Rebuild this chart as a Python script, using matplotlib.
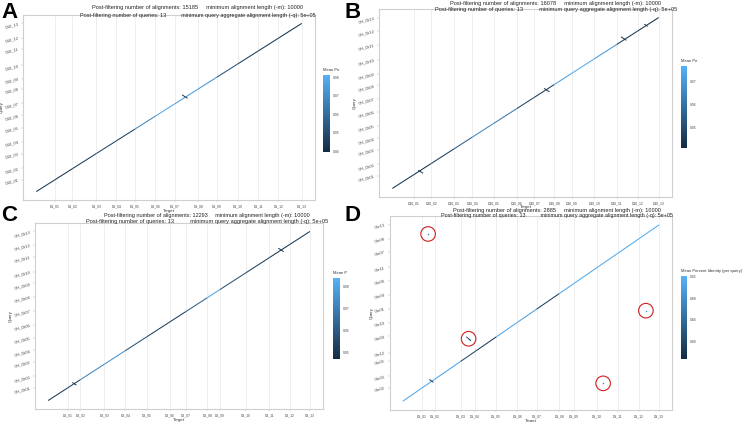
import numpy as np
import matplotlib
matplotlib.use("Agg")
import matplotlib.pyplot as plt
from matplotlib.collections import LineCollection
from matplotlib.colors import LinearSegmentedColormap, Normalize
from matplotlib.cm import ScalarMappable

# ---------------- data ----------------
# Panel A
a_target_labels = [f"D5_{i:02d}" for i in range(1, 14)]
a_target_len = [55, 53, 72, 60, 55, 62, 58, 70, 55, 63, 62, 60, 70]
a_query_labels = [f"D10_{i:02d}" for i in range(1, 14)]
a_query_len = [57, 54, 68, 56, 67, 60, 56, 68, 48, 63, 78, 52, 68]
a_identity = [0.944, 0.942, 0.945, 0.948, 0.946, 0.968, 0.978, 0.975, 0.972, 0.952, 0.945, 0.944, 0.942]
a_cb_ticks = [0.94, 0.95, 0.96, 0.97, 0.98]
a_cb_range = [0.9395, 0.9813]
a_inversions = [(445, 449, 14)]
a_n_aln = 15185

# Panel B
b_target_labels = [f"D10_{i:02d}" for i in range(1, 14)]
b_target_len = [65, 52, 68, 55, 65, 68, 52, 60, 53, 67, 67, 63, 63]
b_query_labels = ["GH_Dt01", "GH_Dt03", "GH_Dt02"] + [f"GH_Dt{i:02d}" for i in range(4, 14)]
b_query_len = [59, 53, 67, 55, 58, 67, 59, 63, 55, 66, 70, 63, 63]
b_identity = [0.944, 0.943, 0.946, 0.955, 0.966, 0.962, 0.948, 0.945, 0.972, 0.975, 0.970, 0.945, 0.943]
b_cb_ticks = [0.95, 0.96, 0.97]
b_cb_range = [0.9413, 0.9766]
b_inversions = [(463, 459, 14), (693, 700, 14), (760, 762, 8), (85, 78, 12)]
b_n_aln = 16078

# Panel C
c_target_labels = [f"D5_{i:02d}" for i in range(1, 14)]
c_target_len = [60, 37, 72, 63, 65, 70, 47, 65, 38, 78, 70, 62, 60]
c_query_labels = ["GH_Dt01", "GH_Dt03", "GH_Dt02"] + [f"GH_Dt{i:02d}" for i in range(4, 14)]
c_query_len = [59, 53, 67, 55, 58, 59, 65, 67, 62, 55, 70, 55, 62]
c_identity = [0.951, 0.953, 0.972, 0.975, 0.958, 0.953, 0.951, 0.962, 0.980, 0.958, 0.953, 0.950, 0.951]
c_cb_ticks = [0.95, 0.96, 0.97, 0.98]
c_cb_range = [0.947, 0.9837]
c_inversions = [(700, 701, 14), (79, 78, 10)]
c_n_aln = 12293

# Panel D
d_target_labels = [f"D5_{i:02d}" for i in range(1, 14)]
d_target_len = [58, 40, 80, 45, 65, 65, 60, 70, 45, 70, 65, 65, 63]
d_query_labels = ["Chr02", "Chr03", "Chr05", "Chr12", "Chr09", "Chr10", "Chr01",
                  "Chr04", "Chr06", "Chr11", "Chr07", "Chr08", "Chr13"]
d_query_len = [61, 50, 68, 36, 76, 61, 61, 65, 61, 61, 71, 58, 62]
d_identity = [0.910, 0.910, 0.905, 0.800, 0.785, 0.905, 0.900, 0.790, 0.910, 0.912, 0.912, 0.912, 0.915]
d_cb_ticks = [0.80, 0.84, 0.88, 0.92]
d_cb_range = [0.767, 0.921]
d_inversions = [(88, 91, 10)]
d_offdiag_t = [78, 203, 618, 750]
d_offdiag_q = [750, 280, 80, 406]
d_n_aln = 2885

# ---------------- figure ----------------
W, H = 749, 422
fig = plt.figure(figsize=(W / 100, H / 100), dpi=100)
plt.rcParams["font.family"] = ["Liberation Sans", "DejaVu Sans"]
cmap = LinearSegmentedColormap.from_list("gg", ["#132B43", "#56B1F7"])


def box(l, t, r, b):
    return [l / W, 1 - b / H, (r - l) / W, (b - t) / H]


def fit_width(txt, target_px):
    r = fig.canvas.get_renderer()
    w = txt.get_window_extent(r).width
    txt.set_fontsize(txt.get_fontsize() * target_px / w)


def panel(letter, axb, cbb, tl, tlen, ql, qlen, ident, cbticks, cbrange, cbtitle,
          invs, n_aln, title_cx, ty1, ty2, w1, w2, letter_xy, xlabel_pad=0.5):
    ax = fig.add_axes(box(*axb))
    tc = np.concatenate([[0], np.cumsum(tlen)])
    qc = np.concatenate([[0], np.cumsum(qlen)])
    T, Q = tc[-1], qc[-1]
    norm = Normalize(cbrange[0], cbrange[1])
    # each target chromosome aligns collinearly along the main diagonal
    qpos = tc * Q / T
    segs = [[(tc[i], qpos[i]), (tc[i + 1], qpos[i + 1])] for i in range(len(tlen))]
    lc = LineCollection(segs, cmap=cmap, norm=norm, linewidths=0.75, zorder=3)
    lc.set_array(np.array(ident))
    ax.add_collection(lc)
    for (t, q, L) in invs:
        ax.plot([t - L / 2, t + L / 2], [q + L / 2, q - L / 2], color="#1d3550", lw=0.7, zorder=4)
    ax.set_xlim(-0.05 * T, 1.05 * T)
    ax.set_ylim(-0.05 * Q, 1.05 * Q)
    ax.set_xticks(tc[1:])
    ax.set_xticklabels(tl, fontsize=2.4, color="#444444")
    ax.set_yticks(qc[1:])
    ax.set_yticklabels(ql, fontsize=2.9, rotation=15, color="#444444")
    ax.grid(axis="x", color="#e9e9e9", lw=0.5, zorder=0)
    for s in ax.spines.values():
        s.set_color("#cfcfcf")
        s.set_linewidth(0.8)
    ax.tick_params(length=1.5, width=0.3, color="#aaaaaa", pad=1.5)
    ax.set_xlabel("Target", fontsize=3.2, labelpad=xlabel_pad, color="#333333")
    ax.set_ylabel("Query", fontsize=3.2, labelpad=0.5, color="#333333")

    cax = fig.add_axes(box(*cbb))
    cb = fig.colorbar(ScalarMappable(norm=norm, cmap=cmap), cax=cax)
    cb.outline.set_visible(False)
    cb.set_ticks(cbticks)
    cb.set_ticklabels([f"{v:.2f}" for v in cbticks])
    cax.tick_params(labelsize=2.4, length=1.2, width=0.3, color="white", pad=1, labelcolor="#444444")
    fig.text(cbb[0] / W, 1 - (cbb[1] - 3) / H, cbtitle, fontsize=3, ha="left", va="bottom", color="#333333")

    t1 = fig.text(title_cx / W, 1 - ty1 / H,
                  f"Post-filtering number of alignments: {n_aln}     minimum alignment length (-m): 10000",
                  ha="center", va="center", fontsize=4, color="#222222")
    t2 = fig.text(title_cx / W, 1 - ty2 / H,
                  "Post-filtering number of queries: 13          minimum query aggregate alignment length (-q): 5e+05",
                  ha="center", va="center", fontsize=4, color="#222222")
    fit_width(t1, w1)
    fit_width(t2, w2)
    fig.text(letter_xy[0] / W, 1 - letter_xy[1] / H, letter, fontsize=16, fontweight="bold",
             ha="left", va="top")
    return ax


axA = panel("A", (23, 15, 315, 200), (323, 75, 330, 152), a_target_labels, a_target_len,
            a_query_labels, a_query_len, a_identity, a_cb_ticks, a_cb_range, "Mean Pe",
            a_inversions, a_n_aln, 198, 8, 15, 207, 235, (1, 2))
axB = panel("B", (379, 9, 672, 197), (681, 66, 687, 148), b_target_labels, b_target_len,
            b_query_labels, b_query_len, b_identity, b_cb_ticks, b_cb_range, "Mean Pe",
            b_inversions, b_n_aln, 556, 3, 9, 207, 238, (344, 2), xlabel_pad=0.0)
axC = panel("C", (35, 223, 323, 409), (333, 278, 340, 359), c_target_labels, c_target_len,
            c_query_labels, c_query_len, c_identity, c_cb_ticks, c_cb_range, "Mean P",
            c_inversions, c_n_aln, 207, 216, 222, 203, 237, (1, 205))
axD = panel("D", (390, 216, 672, 410), (681, 276, 687, 359), d_target_labels, d_target_len,
            d_query_labels, d_query_len, d_identity, d_cb_ticks, d_cb_range,
            "Mean Percent Identity (per query)",
            d_inversions, d_n_aln, 557, 210.5, 216, 207, 231, (344, 205))

# off-diagonal alignments in D, highlighted with red circles
dnorm = Normalize(*d_cb_range)
axD.scatter(d_offdiag_t, d_offdiag_q, s=1.2, color=cmap(dnorm(0.88)), zorder=5, linewidths=0)
axD.plot([d_offdiag_t[1] - 6, d_offdiag_t[1] + 6], [d_offdiag_q[1] + 8, d_offdiag_q[1] - 8],
         color="#2a4a6a", lw=0.7, zorder=5)
axD.scatter(d_offdiag_t, d_offdiag_q, s=110, facecolors="none", edgecolors="#cc2020",
            linewidths=0.8, zorder=6)

fig.savefig("out.png", dpi=100)
